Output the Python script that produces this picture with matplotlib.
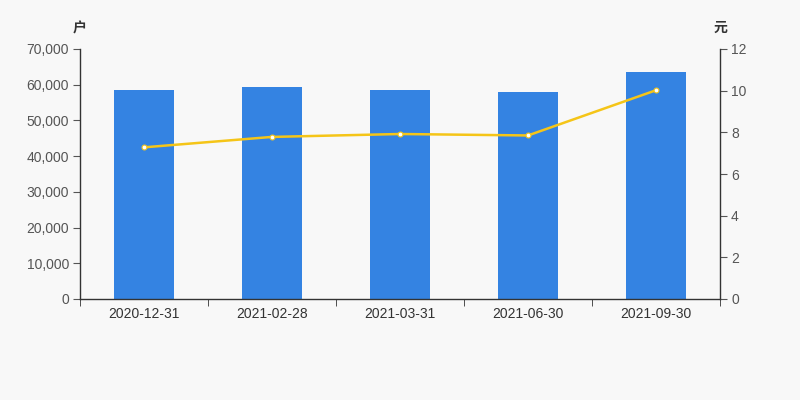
import numpy as np
import matplotlib.pyplot as plt
from matplotlib.ticker import FuncFormatter

plt.rcParams['font.family'] = ['Liberation Sans', 'Noto Sans CJK SC', 'DejaVu Sans']

dates = ['2020-12-31', '2021-02-28', '2021-03-31', '2021-06-30', '2021-09-30']
holders = [58520, 59360, 58450, 57960, 63480]
avg_price = [7.28, 7.78, 7.92, 7.85, 10.02]

bg = '#f8f8f8'
axis_col = '#333333'

fig = plt.figure(figsize=(8, 4), dpi=100, facecolor=bg)
ax = fig.add_axes([0.1, 0.2525, 0.8, 0.625])
ax.set_facecolor(bg)
ax2 = ax.twinx()

x = np.arange(len(dates))
ax.bar(x, holders, width=0.47, color='#3483e2', zorder=2)
ax2.plot(x, avg_price, color='#f5c518', lw=1.8, marker='o', ms=3.5,
         mfc='white', mec='#f5c518', mew=0.8, zorder=3)

ax.set_xlim(-0.5, len(dates) - 0.5)
ax.set_ylim(0, 70000)
ax.set_yticks(np.arange(0, 70001, 10000))
ax.yaxis.set_major_formatter(FuncFormatter(lambda v, p: f'{int(v):,}'))
ax2.set_ylim(0, 12)
ax2.set_yticks(np.arange(0, 13, 2))

ax.set_xticks(x)
ax.set_xticklabels(dates)
ax.set_xticks(np.arange(-0.5, len(dates), 1), minor=True)
ax.tick_params(axis='x', which='major', length=0, pad=6, labelsize=10, colors=axis_col)
ax.tick_params(axis='x', which='minor', length=5, color=axis_col)
ax.tick_params(axis='y', length=5, labelsize=10, colors='#555555', pad=3)
ax2.tick_params(axis='y', length=5, labelsize=10, colors='#555555', pad=3)

for a in (ax, ax2):
    a.spines['top'].set_visible(False)
    for s in ('left', 'right', 'bottom'):
        a.spines[s].set_color(axis_col)
        a.spines[s].set_linewidth(1)
ax.spines['right'].set_visible(False)
ax2.spines['left'].set_visible(False)
ax2.spines['bottom'].set_visible(False)

fig.text(0.1, 0.93, '户', ha='center', va='center', fontsize=10,
         fontweight='bold', color=axis_col)
fig.text(0.9, 0.93, '元', ha='center', va='center', fontsize=10,
         fontweight='bold', color=axis_col)

fig.savefig('out.png', dpi=100, facecolor=bg)
